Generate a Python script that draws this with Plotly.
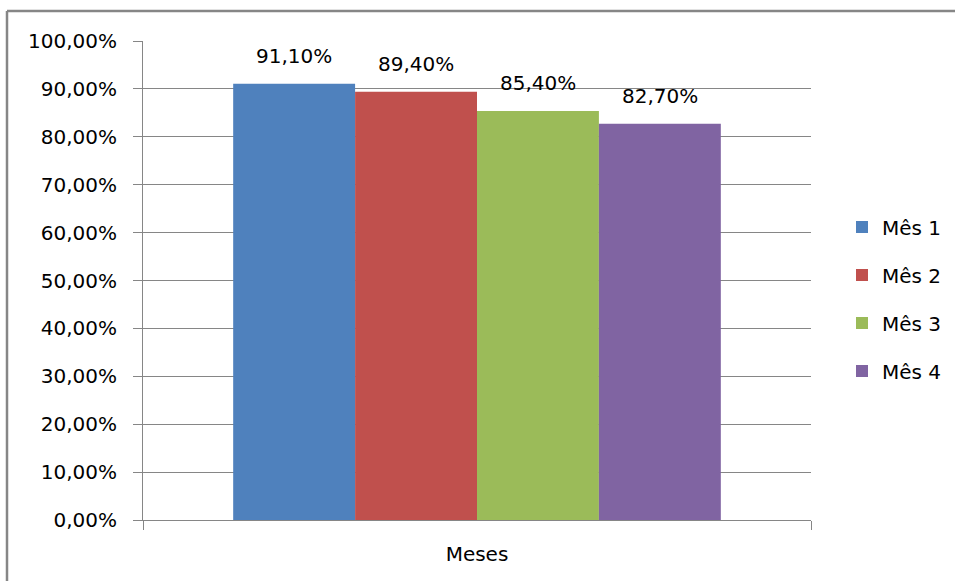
import plotly.graph_objects as go

categories = ["Meses"]
series_names = ["Mês 1", "Mês 2", "Mês 3", "Mês 4"]
series_values = [0.911, 0.894, 0.854, 0.827]
value_labels = ["91,10%", "89,40%", "85,40%", "82,70%"]
colors = ["#4F81BD", "#C0504D", "#9BBB59", "#8064A2"]
y_ticks = [i / 10 for i in range(11)]

FONT = "DejaVu Sans"
W, H = 955, 581
ML, MR, MT, MB = 143, 144, 41, 61
BARGAP = 0.27

fig = go.Figure()
for i, (name, val, col) in enumerate(zip(series_names, series_values, colors)):
    fig.add_trace(go.Bar(
        x=categories, y=[val], name=name, marker=dict(color=col, line=dict(width=0)),
        legendgroup=name, hoverinfo="skip",
    ))

n = len(series_names)
bw = (1 - BARGAP) / n
for i, (val, lab) in enumerate(zip(series_values, value_labels)):
    xc = -0.5 * (1 - BARGAP) + bw * (i + 0.5)
    fig.add_annotation(x=xc, y=val, text=lab, showarrow=False, yanchor="bottom",
                       yshift=14, font=dict(family=FONT, size=20, color="#000"))

pw = W - ML - MR
ph = H - MT - MB
def px_x(p):
    return (p - ML) / pw
def px_y(p):
    return (H - MB - p) / ph

border = dict(color="#868686", width=2.5)
fig.add_shape(type="line", xref="paper", yref="paper", x0=px_x(7), x1=px_x(1000),
              y0=px_y(11), y1=px_y(11), line=border, layer="above")
fig.add_shape(type="line", xref="paper", yref="paper", x0=px_x(7), x1=px_x(7),
              y0=px_y(11), y1=px_y(650), line=border, layer="above")

fig.update_layout(
    width=W, height=H,
    margin=dict(l=ML, r=MR, t=MT, b=MB, pad=0, autoexpand=False),
    paper_bgcolor="white", plot_bgcolor="white",
    barmode="group", bargap=BARGAP, bargroupgap=0,
    separators=",.",
    font=dict(family=FONT, size=20, color="#000"),
    showlegend=True,
    legend=dict(x=px_x(842), xanchor="left", y=px_y(299), yanchor="middle",
                tracegroupgap=19, font=dict(family=FONT, size=20, color="#000"),
                bgcolor="rgba(0,0,0,0)"),
    xaxis=dict(type="category", showline=True, linecolor="#868686", linewidth=1,
               ticks="outside", ticklen=9, tickcolor="#868686", tickson="boundaries",
               showgrid=False, tickfont=dict(family=FONT, size=20, color="#000"),
               ticklabelstandoff=16),
    yaxis=dict(range=[0, 1], tickvals=y_ticks, tickformat=".2%", showline=True,
               linecolor="#868686", linewidth=1, ticks="outside", ticklen=9,
               tickcolor="#868686", showgrid=True, gridcolor="#868686", gridwidth=1,
               zeroline=False, tickfont=dict(family=FONT, size=20, color="#000"),
               ticklabelstandoff=12),
)

fig.write_html("out.html")
